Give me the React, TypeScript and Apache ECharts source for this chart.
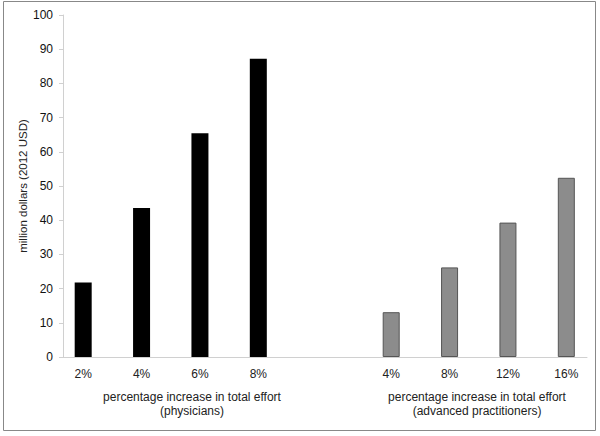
import React, { useEffect, useRef } from "react";
import * as echarts from "echarts";

const physCategories = ["2%", "4%", "6%", "8%"];
const physValues = [21.8, 43.6, 65.4, 87.2];
const apCategories = ["4%", "8%", "12%", "16%"];
const apValues = [13.1, 26.2, 39.3, 52.4];
const yTitle = "million dollars (2012 USD)";
const physTitle = ["percentage increase in total effort", "(physicians)"];
const apTitle = ["percentage increase in total effort", "(advanced practitioners)"];

const FONT = "Liberation Sans, Arial, sans-serif";

export default function App() {
  const ref = useRef<HTMLDivElement>(null);
  useEffect(() => {
    if (!ref.current) return;
    const chart = echarts.init(ref.current, null, { renderer: "svg" });
    const hiddenY = (gridIndex: number) => ({
      type: "value",
      gridIndex,
      min: 0,
      max: 100,
      interval: 10,
      show: false,
    });
    const catLabel = { margin: 11, fontSize: 12, color: "#222", fontFamily: FONT, interval: 0 };
    chart.setOption({
      animation: false,
      backgroundColor: "#fff",
      textStyle: { fontFamily: FONT },
      grid: [
        { left: 63, top: 15, width: 524, height: 342 },
        { left: 54, top: 15, width: 233.5, height: 342 },
        { left: 362, top: 15, width: 233.5, height: 342 },
      ],
      xAxis: [
        {
          type: "category",
          gridIndex: 0,
          data: [""],
          axisLine: { show: true, lineStyle: { color: "#d0d0d0", width: 1 } },
          axisTick: { show: false },
          axisLabel: { show: false },
        },
        {
          type: "category",
          gridIndex: 1,
          data: physCategories,
          axisLine: { show: false },
          axisTick: { show: false },
          axisLabel: catLabel,
        },
        {
          type: "category",
          gridIndex: 2,
          data: apCategories,
          axisLine: { show: false },
          axisTick: { show: false },
          axisLabel: catLabel,
        },
      ],
      yAxis: [
        {
          type: "value",
          gridIndex: 0,
          min: 0,
          max: 100,
          interval: 10,
          axisLine: { show: true, lineStyle: { color: "#d0d0d0", width: 1 } },
          axisTick: { show: true, length: 4, lineStyle: { color: "#d0d0d0" } },
          splitLine: { show: false },
          axisLabel: { margin: 10, fontSize: 12, color: "#111", fontFamily: FONT },
          name: yTitle,
          nameLocation: "middle",
          nameGap: 34,
          nameMoveOverlap: false,
          nameTextStyle: { fontSize: 11.5, color: "#222", fontFamily: FONT },
        },
        hiddenY(1),
        hiddenY(2),
      ],
      series: [
        {
          type: "bar",
          xAxisIndex: 1,
          yAxisIndex: 1,
          data: physValues,
          barWidth: 17,
          itemStyle: { color: "#000" },
        },
        {
          type: "bar",
          xAxisIndex: 2,
          yAxisIndex: 2,
          data: apValues,
          barWidth: 17,
          itemStyle: { color: "#8c8c8c", borderColor: "#555", borderWidth: 1 },
        },
      ],
      graphic: [
        {
          type: "rect",
          shape: { x: 3.5, y: 1.5, width: 592, height: 429 },
          style: { fill: "none", stroke: "#888", lineWidth: 1 },
          silent: true,
        },
        {
          type: "text",
          x: 192,
          y: 404,
          style: {
            text: physTitle.join("\n"),
            font: `12px ${FONT}`,
            fill: "#222",
            align: "center",
            verticalAlign: "middle",
            lineHeight: 14,
          },
        },
        {
          type: "text",
          x: 477,
          y: 404,
          style: {
            text: apTitle.join("\n"),
            font: `12px ${FONT}`,
            fill: "#222",
            align: "center",
            verticalAlign: "middle",
            lineHeight: 14,
          },
        },
      ],
    });
    return () => chart.dispose();
  }, []);
  return (
    <div
      ref={ref}
      style={{ position: "absolute", left: 0, top: 0, width: 600, height: 436 }}
    />
  );
}
